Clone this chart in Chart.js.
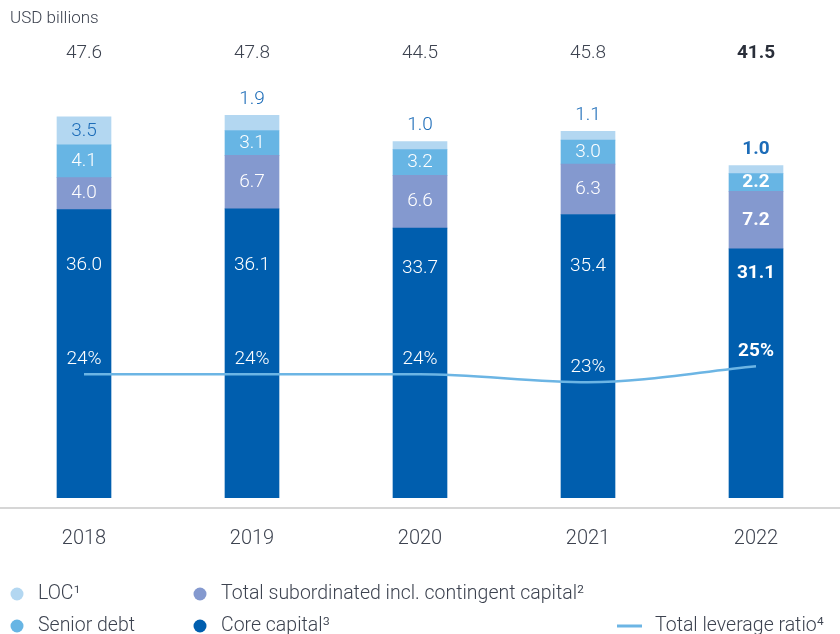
<!DOCTYPE html>
<html>
<head>
<meta charset="utf-8">
<script src="https://cdn.jsdelivr.net/npm/chart.js@4.4.0/dist/chart.umd.min.js"></script>
<style>
  html, body { margin: 0; padding: 0; background: #fff; }
  #wrap { width: 840px; height: 634px; position: relative; }
</style>
</head>
<body>
<div id="wrap"><canvas id="myChart" width="840" height="634"></canvas></div>
<script>
const years = ['2018', '2019', '2020', '2021', '2022'];
const coreCapital = [36.0, 36.1, 33.7, 35.4, 31.1];
const subordinated = [4.0, 6.7, 6.6, 6.3, 7.2];
const seniorDebt = [4.1, 3.1, 3.2, 3.0, 2.2];
const loc = [3.5, 1.9, 1.0, 1.1, 1.0];
const totals = ['47.6', '47.8', '44.5', '45.8', '41.5'];
const leverageRatio = [24, 24, 24, 23, 25];

const FONT = 'Roboto, "Liberation Sans", sans-serif';
const colCore = '#005eae';
const colSub = '#8499cf';
const colSenior = '#67b5e4';
const colLoc = '#b3d7f1';
const colLine = '#6cb5e4';
const colLabelBlue = '#1c6cb8';
const colText = '#3d4350';

const labelsPlugin = {
  id: 'labels',
  afterDatasetsDraw(chart) {
    const ctx = chart.ctx;
    const xs = chart.scales.x;
    ctx.save();
    ctx.textAlign = 'center';
    ctx.textBaseline = 'middle';

    // segment values
    for (let d = 0; d < 4; d++) {
      const meta = chart.getDatasetMeta(d);
      const vals = chart.data.datasets[d].data;
      meta.data.forEach((el, i) => {
        const bold = i === 4;
        ctx.font = (bold ? '700 ' : '300 ') + '19px ' + FONT;
        const h = el.base - el.y;
        const txt = vals[i].toFixed(1);
        if (d === 3) {
          ctx.fillStyle = colLabelBlue;
          if (h > 22) ctx.fillText(txt, el.x, (el.y + el.base) / 2);
          else ctx.fillText(txt, el.x, el.y - 16);
        } else if (d === 0) {
          // core capital label sits in the upper part of the bar
          ctx.fillStyle = '#ffffff';
          ctx.fillText(txt, el.x, 223 + 0.2 * el.y);
        } else {
          ctx.fillStyle = '#ffffff';
          ctx.fillText(txt, el.x, (el.y + el.base) / 2);
        }
      });
    }

    // leverage ratio labels
    const lm = chart.getDatasetMeta(4);
    lm.data.forEach((pt, i) => {
      const bold = i === 4;
      ctx.font = (bold ? '700 ' : '300 ') + '19px ' + FONT;
      ctx.fillStyle = '#ffffff';
      ctx.fillText(leverageRatio[i] + '%', pt.x, pt.y - 15);
    });

    // totals
    totals.forEach((t, i) => {
      const bold = i === 4;
      ctx.font = (bold ? '700 ' : '300 ') + '19px ' + FONT;
      ctx.fillStyle = bold ? '#2a2f3a' : colText;
      ctx.fillText(t, xs.getPixelForValue(i), 53);
    });

    // unit
    ctx.textAlign = 'left';
    ctx.font = '300 17px ' + FONT;
    ctx.fillStyle = colText;
    ctx.fillText('USD billions', 10, 19);

    // axis line
    ctx.strokeStyle = '#c8c8c8';
    ctx.lineWidth = 1.5;
    ctx.beginPath();
    ctx.moveTo(0, chart.chartArea.bottom);
    ctx.lineTo(840, chart.chartArea.bottom);
    ctx.stroke();

    // legend
    ctx.font = '300 19.5px ' + FONT;
    const items = [
      { c: colLoc, t: 'LOC\u00B9', x: 17, y: 594 },
      { c: colSub, t: 'Total subordinated incl. contingent capital\u00B2', x: 200, y: 594 },
      { c: colSenior, t: 'Senior debt', x: 17, y: 626 },
      { c: colCore, t: 'Core capital\u00B3', x: 200, y: 626 }
    ];
    items.forEach(it => {
      ctx.fillStyle = it.c;
      ctx.beginPath();
      ctx.arc(it.x, it.y, 6.5, 0, Math.PI * 2);
      ctx.fill();
      ctx.fillStyle = colText;
      ctx.fillText(it.t, it.x + 21, it.y);
    });
    ctx.strokeStyle = colLine;
    ctx.lineWidth = 3;
    ctx.beginPath();
    ctx.moveTo(617, 626);
    ctx.lineTo(642, 626);
    ctx.stroke();
    ctx.fillStyle = colText;
    ctx.fillText('Total leverage ratio\u2074', 655, 626);

    ctx.restore();
  }
};

const barBase = { stack: 's', barThickness: 54, borderWidth: 0, order: 1, yAxisID: 'y' };

new Chart(document.getElementById('myChart'), {
  type: 'bar',
  data: {
    labels: years,
    datasets: [
      Object.assign({ label: 'Core capital', data: coreCapital, backgroundColor: colCore }, barBase),
      Object.assign({ label: 'Total subordinated', data: subordinated, backgroundColor: colSub }, barBase),
      Object.assign({ label: 'Senior debt', data: seniorDebt, backgroundColor: colSenior }, barBase),
      Object.assign({ label: 'LOC', data: loc, backgroundColor: colLoc }, barBase),
      {
        type: 'line',
        label: 'Total leverage ratio',
        data: leverageRatio,
        yAxisID: 'y2',
        borderColor: colLine,
        borderWidth: 2.5,
        pointRadius: 0,
        cubicInterpolationMode: 'monotone',
        order: 0
      }
    ]
  },
  options: {
    responsive: false,
    animation: false,
    layout: { padding: { left: -2.5, right: -2.5, top: 0, bottom: 66 } },
    plugins: { legend: { display: false }, tooltip: { enabled: false } },
    scales: {
      x: {
        stacked: true,
        grid: { display: false },
        border: { display: false },
        ticks: { color: colText, font: { family: FONT, size: 20, weight: 300 }, padding: 11 },
        afterFit: s => { s.height = 60; }
      },
      y: {
        stacked: true,
        display: false,
        min: -1.2875,
        max: -1.2875 + 508 / 8
      },
      y2: {
        display: false,
        min: 7.29,
        max: 70.79
      }
    }
  },
  plugins: [labelsPlugin]
});
</script>
</body>
</html>
